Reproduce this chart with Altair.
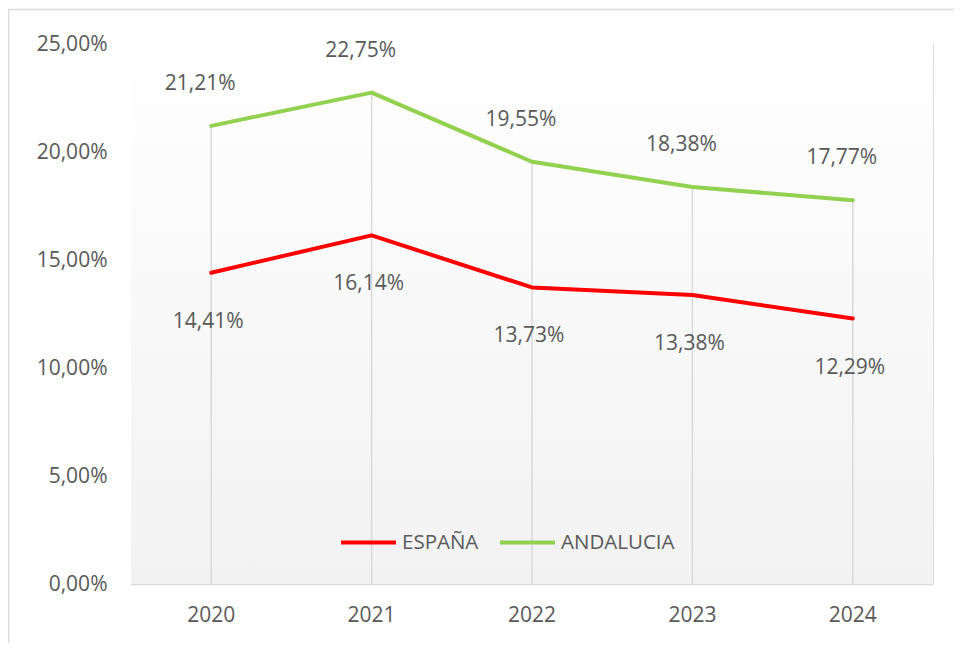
import altair as alt
import pandas as pd

years = ["2020", "2021", "2022", "2023", "2024"]
espana = [14.41, 16.14, 13.73, 13.38, 12.29]
andalucia = [21.21, 22.75, 19.55, 18.38, 17.77]
series_names = ["ESPAÑA", "ANDALUCIA"]
series_colors = ["#FF0000", "#92D050"]
y_ticks = [0, 5, 10, 15, 20, 25]

W, H = 802, 540
FONT = "Open Sans"
TXT = "#595959"
GRID = "#d9d9d9"

long_df = pd.DataFrame(
    [{"year": y, "serie": series_names[0], "v": v} for y, v in zip(years, espana)]
    + [{"year": y, "serie": series_names[1], "v": v} for y, v in zip(years, andalucia)]
)
wide_df = pd.DataFrame({"year": years, "esp": espana, "and": andalucia})

label_expr = "replace(format(datum.v, '.2f'), '.', ',') + '%'"

x_enc = alt.X(
    "year:N",
    sort=years,
    title=None,
    axis=alt.Axis(
        labelAngle=0, ticks=False, grid=False, domain=True, domainColor=GRID,
        domainWidth=1.5, labelPadding=20, labelFontSize=21, labelColor=TXT,
        labelFont=FONT,
    ),
)
y_scale = alt.Scale(domain=[0, 25], nice=False, zero=True)
y_axis = alt.Axis(
    values=y_ticks, ticks=False, grid=False, domain=False, labelPadding=24,
    labelFontSize=21, labelColor=TXT, labelFont=FONT,
    labelExpr="replace(format(datum.value, '.2f'), '.', ',') + '%'",
)

one = pd.DataFrame({"a": [0]})

bg = alt.Chart(one).mark_rect(
    color=alt.Gradient(
        gradient="linear",
        stops=[alt.GradientStop(color="#ffffff", offset=0),
               alt.GradientStop(color="#f2f2f2", offset=1)],
        x1=0, x2=0, y1=0, y2=1,
    )
).encode(x=alt.value(0), x2=alt.value(W), y=alt.value(0), y2=alt.value(H))

border_left = alt.Chart(one).mark_rule(color=GRID, strokeWidth=1.5).encode(
    x=alt.value(-122.5), y=alt.value(-34.5), y2=alt.value(H + 120)
)
border_top = alt.Chart(one).mark_rule(color=GRID, strokeWidth=1.5).encode(
    x=alt.value(-122.5), x2=alt.value(W + 120), y=alt.value(-34.5)
)

drops = alt.Chart(wide_df).mark_rule(color=GRID, strokeWidth=1.5).encode(
    x=x_enc,
    y=alt.Y("and:Q", scale=y_scale, axis=y_axis, title=None),
    y2=alt.datum(0),
)

lines = alt.Chart(long_df).mark_line(strokeWidth=4, strokeCap="round", strokeJoin="round").encode(
    x=x_enc,
    y=alt.Y("v:Q", scale=y_scale, axis=y_axis, title=None),
    color=alt.Color(
        "serie:N",
        scale=alt.Scale(domain=series_names, range=series_colors),
        sort=series_names,
        legend=alt.Legend(
            title=None, orient="none", direction="horizontal",
            legendX=208, legendY=469, symbolType="stroke", symbolSize=3025,
            symbolStrokeWidth=4, labelFontSize=20.5, labelColor=TXT, labelFont=FONT,
            labelOffset=4, columnPadding=13,
        ),
    ),
)

text_and = alt.Chart(long_df).transform_filter(
    alt.datum.serie == series_names[1]
).transform_calculate(lbl=label_expr).mark_text(
    fontSize=21, color=TXT, font=FONT, dy=-42, dx=-11
).encode(x=x_enc, y=alt.Y("v:Q", scale=y_scale, axis=y_axis, title=None), text="lbl:N")

text_esp = alt.Chart(long_df).transform_filter(
    alt.datum.serie == series_names[0]
).transform_calculate(lbl=label_expr).mark_text(
    fontSize=21, color=TXT, font=FONT, dy=49, dx=-3
).encode(x=x_enc, y=alt.Y("v:Q", scale=y_scale, axis=y_axis, title=None), text="lbl:N")

chart = alt.layer(bg, border_left, border_top, drops, lines, text_and, text_esp).properties(
    width=W, height=H,
    autosize=alt.AutoSizeParams(type="none"),
    padding={"left": 123, "top": 36, "right": 21, "bottom": 59},
).configure_view(stroke=None).configure(background="white")

chart.save("out.html", embed_options={"renderer": "svg", "actions": False})
